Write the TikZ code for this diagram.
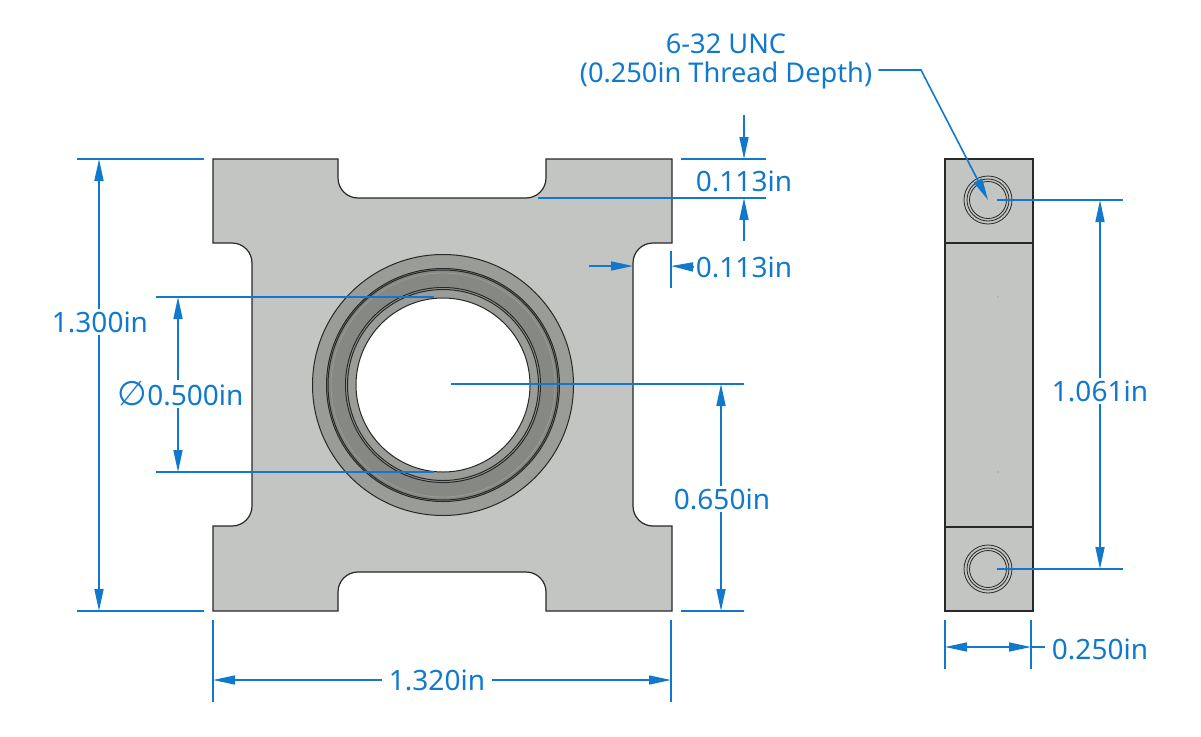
\documentclass[tikz,border=0pt]{standalone}
\usepackage{fontspec}
\setmainfont{Noto Sans}
\newfontfamily\symfont{DejaVu Sans}
\usetikzlibrary{arrows.meta,positioning,calc}
\definecolor{dimblue}{RGB}{17,121,205}
\definecolor{partgray}{RGB}{195,197,194}
\definecolor{ringgray}{RGB}{154,156,152}
\definecolor{bandgray}{RGB}{134,136,132}
\definecolor{edgegray}{RGB}{40,40,40}
\tikzset{
    part/.style={draw=edgegray, line width=1.2pt, fill=partgray},
    ringline/.style={draw=edgegray, line width=1pt},
    dimline/.style={draw=dimblue, line width=1.6pt},
    dimarrow/.style={dimline, -{Triangle[length=22pt,width=9pt]}},
    dimlabel/.style={text=dimblue, inner sep=2pt, font=\fontsize{28}{29}\selectfont, align=center}
}
\begin{document}
\begin{tikzpicture}[x=1pt, y=-1pt]
    \useasboundingbox (0,0) rectangle (1201,736);
    \coordinate (hole) at (443,385);
    \coordinate (screwa) at (988,200);
    \coordinate (screwb) at (988,569);
    \draw[part] (213,159) -- (338,159) -- (338,178) arc[start angle=180, end angle=90, radius=20]
        -- (526,198) arc[start angle=90, end angle=0, radius=20] -- (546,159) -- (672,159) -- (672,243)
        -- (653,243) arc[start angle=-90, end angle=-180, radius=20] -- (633,506)
        arc[start angle=180, end angle=90, radius=20] -- (672,526) -- (672,611) -- (546,611) -- (546,592)
        arc[start angle=0, end angle=-90, radius=20] -- (358,572) arc[start angle=-90, end angle=-180, radius=20]
        -- (338,611) -- (213,611) -- (213,526) -- (232,526) arc[start angle=90, end angle=0, radius=20]
        -- (252,263) arc[start angle=0, end angle=-90, radius=20] -- (213,243) -- cycle;
    \draw[ringline, fill=ringgray] (hole) circle[radius=130.5];
    \draw[ringline, fill=bandgray] (hole) circle[radius=116.5];
    \draw[draw=ringgray, line width=0.8pt] (hole) circle[radius=112];
    \draw[ringline] (hole) circle[radius=115];
    \draw[ringline, fill=ringgray] (hole) circle[radius=97.5];
    \draw[ringline] (hole) circle[radius=95.5];
    \draw[ringline, fill=white] (hole) circle[radius=87];
    \draw[part] (945,159) rectangle (1033,611);
    \draw[part] (945,243) -- (1033,243);
    \draw[part] (945,527) -- (1033,527);
    \foreach \s in {screwa,screwb} {
        \draw[ringline, line width=0.8pt] (\s) circle[radius=24];
        \draw[ringline, line width=0.8pt] (\s) circle[radius=21];
        \draw[ringline, line width=0.8pt] (\s) circle[radius=18.5];
    }
    \fill[gray] (998,297) circle[radius=0.7];
    \fill[gray] (998,472) circle[radius=0.7];

    \node (w1300) [dimlabel] at (100,322) {1.300in};
    \node (w500) [dimlabel] at (180.5,394) {{\symfont\fontsize{34}{34}\selectfont∅}0.500in};
    \node (w650) [dimlabel] at (722,499) {0.650in};
    \node (w1320) [dimlabel, inner xsep=7pt] at (437,680) {1.320in};
    \node (w113a) [dimlabel] at (744,181) {0.113in};
    \node (w113b) [dimlabel] at (744,267) {0.113in};
    \node (w1061) [dimlabel] at (1100,391) {1.061in};
    \node (w250) [dimlabel] at (1100,649) {0.250in};
    \node (wthread) [dimlabel, inner sep=0pt, font=\fontsize{27.2}{29}\selectfont] at (726,61) {6-32 UNC\\(0.250in Thread Depth)};

    \draw[dimline] (77,159) -- (204,159);
    \draw[dimline] (77,611) -- (204,611);
    \draw[dimarrow] (w1300.north -| 99,0) -- (99,159);
    \draw[dimarrow] (w1300.south -| 99,0) -- (99,611);

    \draw[dimline] (156,297) -- (434,297);
    \draw[dimline] (156,472) -- (434,472);
    \draw[dimarrow] (w500.north -| 178,0) -- (178,297);
    \draw[dimarrow] (w500.south -| 178,0) -- (178,472);

    \draw[dimline] (451,384) -- (744,384);
    \draw[dimline] (681,611) -- (744,611);
    \draw[dimarrow] (w650.north -| 721,0) -- (721,384);
    \draw[dimarrow] (w650.south -| 721,0) -- (721,611);

    \draw[dimline] (213,620) -- (213,702);
    \draw[dimline] (671,620) -- (671,702);
    \draw[dimarrow] (w1320.west) -- (213,680);
    \draw[dimarrow] (w1320.east) -- (671,680);

    \draw[dimline] (681,159) -- (766,159);
    \draw[dimline] (538,198) -- (766,198);
    \draw[dimarrow] (744,115) -- (744,159);
    \draw[dimarrow] (744,241) -- (744,198);

    \draw[dimline] (671,251) -- (671,288);
    \draw[dimarrow] (589,266) -- (633,266);
    \draw[dimarrow] (w113b.west) -- (671,266);

    \draw[dimline] (997,200) -- (1123,200);
    \draw[dimline] (997,569) -- (1123,569);
    \draw[dimarrow] (w1061.north -| 1100,0) -- (1100,200);
    \draw[dimarrow] (w1061.south -| 1100,0) -- (1100,569);

    \draw[dimline] (945,620) -- (945,669);
    \draw[dimline] (1031,620) -- (1031,669);
    \draw[dimarrow] (988,647) -- (945,647);
    \draw[dimarrow] (988,647) -- (1031,647);
    \draw[dimline] (1031,647) -- (1045,647);

    \draw[dimarrow] (wthread.east |- 0,70) ++(6,0) -- (921,70) -- (screwa);
\end{tikzpicture}
\end{document}
